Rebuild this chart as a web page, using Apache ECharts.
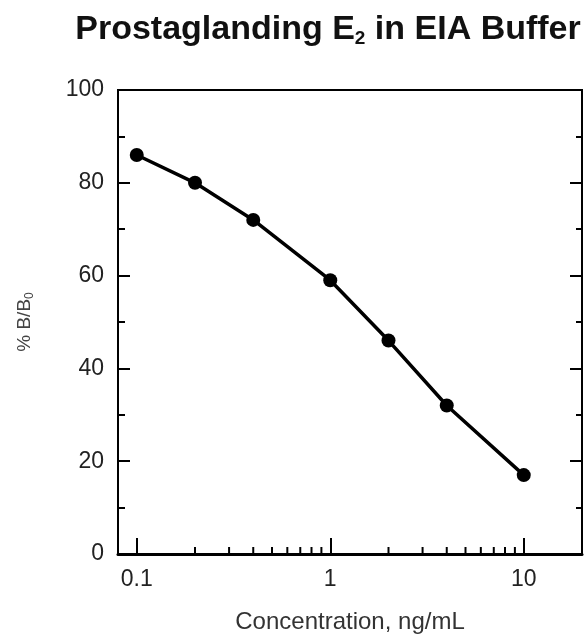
<!DOCTYPE html>
<html>
<head>
<meta charset="utf-8">
<title>Prostaglanding E2 in EIA Buffer</title>
<script src="https://cdn.jsdelivr.net/npm/echarts@6/dist/echarts.min.js"></script>
<style>
html,body{margin:0;padding:0;background:#fff;}
#chart{width:584px;height:642px;}
</style>
</head>
<body>
<div id="chart"></div>
<script>
// standard curve data
const concentrations = [0.1, 0.2, 0.4, 1, 2, 4, 10];   // ng/mL
const percentBB0 = [86, 80, 72, 59, 46, 32, 17];       // % B/B0
// minor ticks of the log x axis
const xMinorTicks = [0.2, 0.3, 0.4, 0.5, 0.6, 0.7, 0.8, 0.9, 2, 3, 4, 5, 6, 7, 8, 9];

const font = 'Liberation Sans, Arial, sans-serif';
let myChart = echarts.init(document.getElementById('chart'));

myChart.setOption({
  animation: false,
  title: {
    text: 'Prostaglanding E{sub|2} in EIA Buffer',
    left: 323,
    textAlign: 'center',
    top: 7,
    textStyle: {
      fontFamily: font,
      fontSize: 34,
      fontWeight: 'bold',
      color: '#111',
      rich: {
        sub: {fontFamily: font, fontSize: 19, fontWeight: 'bold', color: '#111', verticalAlign: 'bottom', padding: [17, 0, 0, 0]}
      }
    }
  },
  grid: {
    left: 118, right: 2, top: 90, bottom: 88,
    show: true, borderColor: '#000', borderWidth: 2
  },
  xAxis: {
    type: 'log',
    min: 0.08,
    max: 20,
    name: 'Concentration, ng/mL',
    nameLocation: 'middle',
    nameGap: 56,
    nameTextStyle: {fontFamily: font, fontSize: 24, color: '#333'},
    axisLine: {lineStyle: {color: '#000', width: 3}},
    axisTick: {inside: true, length: 16, lineStyle: {color: '#000', width: 2}},
    axisLabel: {fontFamily: font, fontSize: 23, color: '#222', margin: 14, showMinLabel: false, showMaxLabel: false},
    splitLine: {show: false}
  },
  yAxis: [{
    type: 'value',
    min: 0, max: 100, interval: 20,
    name: '% B/B{sub|0}',
    nameLocation: 'middle',
    nameGap: 82,
    nameTextStyle: {fontFamily: font, fontSize: 19, color: '#444',
      rich: {sub: {fontFamily: font, fontSize: 12, color: '#444', verticalAlign: 'bottom', padding: [10, 0, 0, 0]}}},
    axisLine: {lineStyle: {color: '#000', width: 2}},
    axisTick: {inside: true, length: 12, lineStyle: {color: '#000', width: 2}},
    minorTick: {show: true, splitNumber: 2, length: 7, lineStyle: {color: '#000', width: 2}},
    axisLabel: {fontFamily: font, fontSize: 23, color: '#222', margin: 14},
    splitLine: {show: false}
  }, {
    type: 'value',
    position: 'right',
    min: 0, max: 100, interval: 20,
    axisLine: {show: true, lineStyle: {color: '#000', width: 2}},
    axisTick: {show: true, inside: true, length: 12, lineStyle: {color: '#000', width: 2}},
    minorTick: {show: true, splitNumber: 2, length: 6, lineStyle: {color: '#000', width: 2}},
    axisLabel: {show: false},
    splitLine: {show: false}
  }],
  series: [{
    type: 'line',
    data: concentrations.map((c, i) => [c, percentBB0[i]]),
    lineStyle: {color: '#000', width: 3.5},
    itemStyle: {color: '#000'},
    symbol: 'circle',
    symbolSize: 14,
    z: 5
  }, {
    // short inward ticks at 2..9 of each decade
    type: 'custom',
    silent: true,
    data: xMinorTicks.map(v => [v, 0]),
    renderItem: function (params, api) {
      let p = api.coord([api.value(0), 0]);
      return {
        type: 'line',
        shape: {x1: p[0], y1: p[1], x2: p[0], y2: p[1] - 7},
        style: {stroke: '#000', lineWidth: 2}
      };
    },
    z: 3
  }]
});
</script>
</body>
</html>
